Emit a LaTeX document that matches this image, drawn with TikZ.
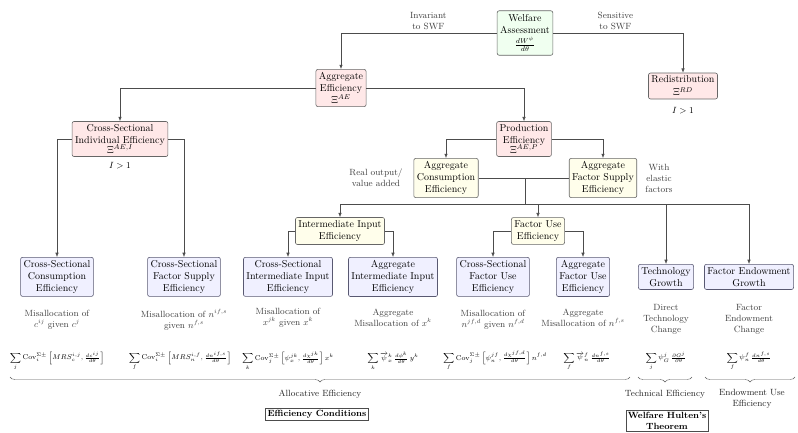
\documentclass[tikz,border=0pt]{standalone}
\usepackage{amsmath}
\usetikzlibrary{arrows.meta,positioning,calc,decorations.pathreplacing}
\tikzset{
  dbox/.style ={draw=black!60, rounded corners=2pt, align=center, inner sep=3pt,
                line width=0.6pt},
  wbox/.style ={dbox, fill=green!6, inner ysep=4pt},
  pbox/.style ={dbox, fill=red!9},
  ybox/.style ={dbox, fill=yellow!8},
  lbox/.style ={dbox, fill=blue!6, draw=blue!15!black!65, anchor=north},
  lbl/.style  ={font=\small, text=black!75, align=center},
  eq/.style   ={font=\scriptsize, inner sep=1pt},
  tbox/.style ={draw=black!70, font=\small\bfseries, align=center, inner sep=2pt},
  ln/.style   ={draw=black!70, line width=0.6pt},
  ar/.style   ={ln, -{Latex[length=1.5mm,width=1.2mm]}},
  brc/.style  ={decorate, decoration={brace, mirror, amplitude=5pt}, draw=black!65},
}

\begin{document}
\begin{tikzpicture}[x=1pt,y=-1pt]
\useasboundingbox (0,0) rectangle (798,432);
% top levels
\node[wbox] (wa) at (525,33) {Welfare\\Assessment\\[2pt]$\frac{dW^{\psi}}{d\theta}$};
\node[pbox] (ae) at (341,88) {Aggregate\\Efficiency\\$\Xi^{AE}$};
\node[pbox] (rd) at (683,86) {Redistribution\\[1pt]$\Xi^{RD}$};
\node[lbl, text=black] (rdc) at (683,111) {$I>1$};
\node[pbox] (csie) at (120,139) {Cross-Sectional\\Individual Efficiency\\[-2pt]$\Xi^{AE,I}$};
\node[lbl, text=black] (csiec) at (120,166) {$I>1$};
\node[pbox] (pe) at (524,139) {Production\\Efficiency\\[-2pt]$\Xi^{AE,P}$};
\node[ybox] (ace) at (446,178) {Aggregate\\Consumption\\Efficiency};
\node[ybox] (afs) at (603,178) {Aggregate\\Factor Supply\\Efficiency};
\node[lbl] (rov) at (376,178) {Real output/\\value added};
\node[lbl] (wef) at (659,178) {With\\elastic\\factors};
\node[ybox] (iie) at (340,231) {Intermediate Input\\Efficiency};
\node[ybox] (fue) at (538,231) {Factor Use\\Efficiency};
% bottom row
\node[lbox] (csc) at (57,257) {Cross-Sectional\\Consumption\\Efficiency};
\node[lbox] (csf) at (184,257) {Cross-Sectional\\Factor Supply\\Efficiency};
\node[lbox] (csi) at (288,257) {Cross-Sectional\\Intermediate Input\\Efficiency};
\node[lbox] (agi) at (393,257) {Aggregate\\Intermediate Input\\Efficiency};
\node[lbox] (csu) at (493,257) {Cross-Sectional\\Factor Use\\Efficiency};
\node[lbox] (agu) at (583,257) {Aggregate\\Factor Use\\Efficiency};
\node[lbox] (tg) at (666,264) {Technology\\Growth};
\node[lbox] (feg) at (749,264) {Factor Endowment\\Growth};
% descriptions
\node[lbl] (d1) at (57,320) {Misallocation of\\$c^{ij}$ given $c^{j}$};
\node[lbl] (d2) at (184,320) {Misallocation of $n^{if,s}$\\given $n^{f,s}$};
\node[lbl] (d3) at (288,318) {Misallocation of\\$x^{jk}$ given $x^{k}$};
\node[lbl] (d4) at (393,318) {Aggregate\\Misallocation of $x^{k}$};
\node[lbl] (d5) at (493,320) {Misallocation of\\$n^{jf,d}$ given $n^{f,d}$};
\node[lbl] (d6) at (583,318) {Aggregate\\Misallocation of $n^{f,s}$};
\node[lbl] (d7) at (666,319) {Direct\\Technology\\Change};
\node[lbl] (d8) at (749,319) {Factor\\Endowment\\Change};
% formulas
\node[eq] (f1) at (57,361) {$\displaystyle\sum_{j}\mathrm{Cov}_i^{\Sigma\pm}\left[MRS_c^{i,j},\tfrac{dc^{ij}}{d\theta}\right]$};
\node[eq] (f2) at (180,361) {$\displaystyle\sum_{f}\mathrm{Cov}_i^{\Sigma\pm}\left[MRS_n^{i,f},\tfrac{dn^{if,s}}{d\theta}\right]$};
\node[eq] (f3) at (288,361) {$\displaystyle\sum_{k}\mathrm{Cov}_j^{\Sigma\pm}\left[\psi_x^{jk},\tfrac{d\chi^{jk}}{d\theta}\right]x^{k}$};
\node[eq] (f4) at (393,361) {$\displaystyle\sum_{k}\overrightarrow{\psi}_x^{k}\,\tfrac{d\phi^{k}}{d\theta}\,y^{k}$};
\node[eq] (f5) at (495,361) {$\displaystyle\sum_{f}\mathrm{Cov}_j^{\Sigma\pm}\left[\psi_n^{jf},\tfrac{d\chi^{jf,d}}{d\theta}\right]n^{f,d}$};
\node[eq] (f6) at (587,361) {$\displaystyle\sum_{f}\overrightarrow{\psi}_n^{f}\,\tfrac{dn^{f,s}}{d\theta}$};
\node[eq] (f7) at (666,361) {$\displaystyle\sum_{j}\psi_G^{j}\,\tfrac{\partial G^{j}}{\partial\theta}$};
\node[eq] (f8) at (749,361) {$\displaystyle\sum_{f}\psi_n^{f}\,\tfrac{dn^{f,s}}{d\theta}$};
% braces and conclusions
\coordinate (b1l) at (10,377); \coordinate (b1r) at (630,377);
\coordinate (b2l) at (638,377); \coordinate (b2r) at (692,377);
\coordinate (b3l) at (705,377); \coordinate (b3r) at (795,377);
\draw[brc] (b1l) -- (b1r);
\draw[brc] (b2l) -- (b2r);
\draw[brc] (b3l) -- (b3r);
\node[lbl, text=black!85] (alc) at (320,394) {Allocative Efficiency};
\node[lbl, text=black!85] (tec) at (665,394) {Technical Efficiency};
\node[lbl, text=black!85] (euc) at (752,399) {Endowment Use\\Efficiency};
\node[tbox] (ec) at (317,414) {Efficiency Conditions};
\node[tbox] (wh) at (667,421) {Welfare Hulten's\\Theorem};
% connectors
\draw[ar] (wa.west) -| (ae.north) node[lbl, pos=0.22, above] {Invariant\\to SWF};
\draw[ar] (wa.east) -| (rd.north) node[lbl, pos=0.24, above] {Sensitive\\to SWF};
\draw[ar] (ae.west) -| (csie.north);
\draw[ar] (ae.east) -| (pe.north);
\draw[ar] (csie.west) -| (csc.north);
\draw[ar] (csie.east) -| (csf.north);
\draw[ar] (pe.west) -| (ace.north);
\draw[ar] (pe.east) -| (afs.north);
\coordinate (bus) at (525,204);
\draw[ln] (ace.east) -| (bus);
\draw[ln] (afs.west) -| (bus);
\draw[ar] (bus) -| (iie.north);
\draw[ar] (bus) -| (fue.north);
\draw[ar] (bus) -| (tg.north);
\draw[ar] (bus) -| (feg.north);
\draw[ar] (iie.west) -| (csi.north);
\draw[ar] (iie.east) -| (agi.north);
\draw[ar] (fue.west) -| (csu.north);
\draw[ar] (fue.east) -| (agu.north);
\end{tikzpicture}
\end{document}
